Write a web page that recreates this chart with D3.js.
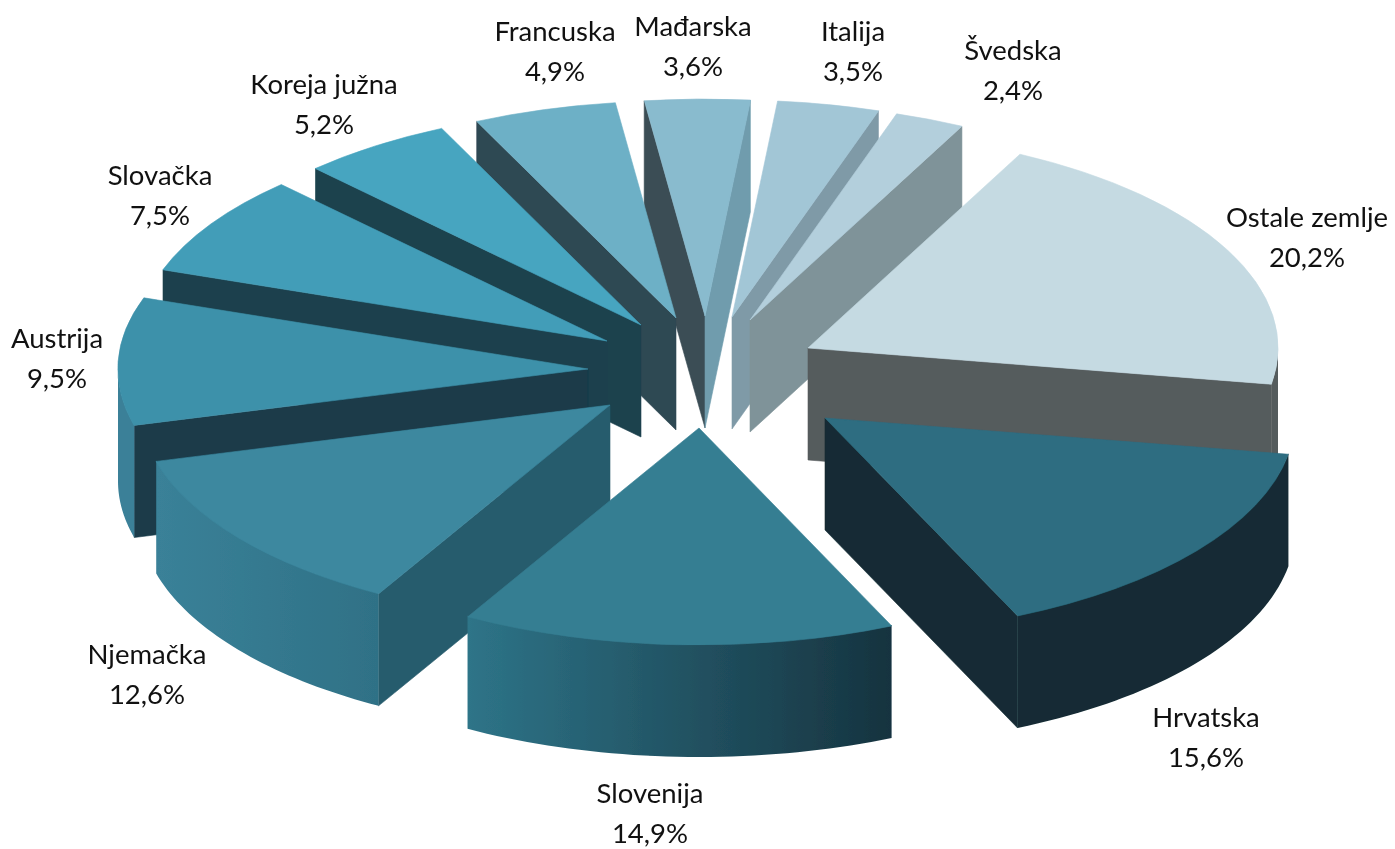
<!DOCTYPE html>
<html><head><meta charset="utf-8">
<script src="https://cdnjs.cloudflare.com/ajax/libs/d3/7.8.5/d3.min.js"></script>
<style>html,body{margin:0;background:#fff}svg{display:block}</style></head>
<body><svg id="c" width="1395" height="849"></svg>
<script>
const categories=["Ostale zemlje","Hrvatska","Slovenija","Njemačka","Austrija","Slovačka","Koreja južna","Francuska","Mađarska","Italija","Švedska"];
const values=[20.2,15.6,14.9,12.6,9.5,7.5,5.2,4.9,3.6,3.5,2.4];
const labelText=["20,2%","15,6%","14,9%","12,6%","9,5%","7,5%","5,2%","4,9%","3,6%","3,5%","2,4%"];
// layout: apex of each exploded slice, label anchors
const apexX=[808,825,699,610,588,607,641,676,705,732,750];
const apexY=[348,418,428,405,369,341,325,318,316,317,320];
const labelX=[1307,1206,650,147,57,160,324,555,693,853,1013];
const labelY=[227,727,803,664,348,185,94,41,36,41,60];
const percentDY=40;
// style
const topColor=["#c5dae2","#2d6d81","#357e92","#3c889f","#3e91aa","#439db8","#46a5c0","#6db0c6","#89bbce","#a2c6d6","#b3cfdc"];
const startWall=["#555b5d","#142c34","#16333f","#285c6d","#1a3b49","#1b414d","#1c424e","#2f4853","#3b4e55","#7f9aa7","#7f9399"];
const endWall=["#555b5d","#142c34","#16333f","#285c6d","#1a3b49","#1b414d","#1c424e","#2f4853","#6f9cad","#7f9aa7","#7f9399"];
const rimLeft=["#555b5d","#142c34","#2e7488","#3a8198","#3a8098","#3a8098","#3a8098","#3a8098","#3a8098","#3a8098","#3a8098"];
const rimRight=["#555b5d","#142c34","#16333f","#2f7186","#3a8098","#3a8098","#3a8098","#3a8098","#3a8098","#3a8098","#3a8098"];
const drawOrder=[9,10,0,1,8,7,6,5,4,3,2];
const rx=470, ry=217, depth=112, firstAngle=26.8*Math.PI/180;

const svg=d3.select("#c");
const defs=svg.append("defs");
defs.append("filter").attr("id","soft").attr("x","-5%").attr("y","-5%").attr("width","110%").attr("height","110%")
  .append("feGaussianBlur").attr("stdDeviation",0.6);
const pie=d3.pie().sort(null).value(d=>d).startAngle(firstAngle).endAngle(firstAngle+2*Math.PI);
const arcs=pie(values);
const unitArc=d3.arc().innerRadius(0).outerRadius(1);
const sx=a=>rx*Math.sin(a), sy=a=>-ry*Math.cos(a);
const polyLine=d3.line();

function wallVisible(a,mid){
  const ex=sx(a),ey=sy(a),mx=sx(mid),my=sy(mid);
  const c1=ex*my-ey*mx, c2=ex;
  return c1*c2<0;
}
const g=svg.append("g").attr("filter","url(#soft)");
drawOrder.forEach(i=>{
  const d=arcs[i],ax=apexX[i],ay=apexY[i];
  const s=g.append("g").attr("transform",`translate(${ax},${ay})`);
  const mid=(d.startAngle+d.endAngle)/2;
  [[d.startAngle,startWall[i]],[d.endAngle,endWall[i]]].forEach(([a,col])=>{
    if(!wallVisible(a,mid))return;
    s.append("path").attr("fill",col).attr("stroke",col).attr("stroke-width",0.6)
      .attr("d",polyLine([[0,0],[sx(a),sy(a)],[sx(a),sy(a)+depth],[0,depth]])+"Z");
  });
  // outer rim: the part of the ellipse facing the viewer
  const pi=Math.PI, lo=pi/2, hi=3*pi/2;
  const a0=Math.max(d.startAngle,lo),a1=Math.min(d.endAngle,hi);
  if(a1>a0){
    const pts=d3.range(41).map(k=>a0+(a1-a0)*k/40);
    const top=pts.map(a=>[sx(a),sy(a)-1]);
    const bot=pts.slice().reverse().map(a=>[sx(a),sy(a)+depth]);
    const id="rim"+i;
    const lg=defs.append("linearGradient").attr("id",id);
    lg.append("stop").attr("offset",0).attr("stop-color",rimLeft[i]);
    lg.append("stop").attr("offset",1).attr("stop-color",rimRight[i]);
    s.append("path").attr("fill",`url(#${id})`).attr("d",polyLine(top.concat(bot))+"Z");
  }
  s.append("path").attr("transform",`scale(${rx},${ry})`).attr("fill",topColor[i])
    .attr("stroke",topColor[i]).attr("stroke-width",0.6).attr("vector-effect","non-scaling-stroke")
    .attr("d",unitArc(d));
});
const t=svg.append("g").attr("font-family","Lato, sans-serif").attr("font-size",27.5).attr("fill","#111").attr("text-anchor","middle");
categories.forEach((c,i)=>{
  t.append("text").attr("x",labelX[i]).attr("y",labelY[i]).text(c);
  t.append("text").attr("x",labelX[i]).attr("y",labelY[i]+percentDY).text(labelText[i]);
});
</script></body></html>
